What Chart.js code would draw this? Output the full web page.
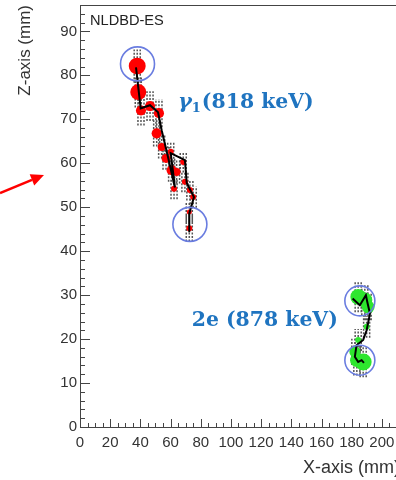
<!DOCTYPE html>
<html>
<head>
<meta charset="utf-8">
<script src="https://cdn.jsdelivr.net/npm/chart.js@4.4.1/dist/chart.umd.min.js"></script>
<style>
  html, body { margin: 0; padding: 0; background: #fff; overflow: hidden; }
  #wrap { width: 396px; height: 480px; overflow: hidden; }
  canvas { display: block; }
</style>
</head>
<body>
<div id="wrap"><canvas id="c" width="420" height="480"></canvas></div>
<script>
// gamma track (818 keV): hit positions in mm, deposit in keV, z spread in mm
const gammaX = [37.9, 38.6, 40.4, 46.4, 52.3, 50.8, 54.1, 57.0, 60.7, 64.0, 62.3, 60.1, 68.4, 69.5, 72.8, 75.0, 72.4, 72.4];
const gammaZ = [82.1, 76.2, 72.0, 73.0, 71.4, 66.8, 63.7, 61.1, 58.4, 58.0, 54.2, 62.6, 60.3, 55.8, 53.9, 52.3, 48.9, 45.2];
const gammaDep = [28, 25, 10, 10, 10, 10, 6, 8, 10, 6, 3.5, 3.5, 3.5, 3.5, 3.5, 3.5, 2.5, 3.5];
const gammaErr = [3.8, 3.5, 3.4, 3.4, 3.2, 3, 2.6, 2.6, 2.6, 2.6, 2.4, 2.4, 2.4, 2.4, 2.4, 2.4, 2.4, 3];
const gammaPathX = [37.1, 40.2, 46.4, 51.7, 54.1, 58.3, 62.9, 60.1, 69.5, 70.7, 75.5, 72.4, 72.4];
const gammaPathZ = [81.8, 72.5, 73.2, 71.6, 67.5, 61.4, 54.5, 62.3, 60.7, 55.5, 52.3, 48.6, 44.3];

// double-electron track (878 keV)
const elecX = [184.3, 188.7, 190.9, 189.9, 184.3, 182.1, 183.4, 187.6];
const elecZ = [29.6, 28.9, 27.3, 22.8, 19.8, 17.1, 15.2, 14.8];
const elecDep = [24, 22, 16, 3.5, 3.5, 12, 18, 28];
const elecErr = [3.5, 3.5, 3, 2.5, 2.5, 3, 3.5, 3.5];
const elecPathX = [180.6, 185.4, 189.4, 190.3, 192.1, 189.9, 187.6, 183.2, 182.1, 184.3, 186.6, 188.1];
const elecPathZ = [29.25, 27.7, 30.0, 28.5, 25.8, 22.0, 19.8, 18.6, 16.0, 14.8, 15.2, 14.6];

// track start / end markers
const gammaEndsX = [38.1, 72.8];
const gammaEndsZ = [82.6, 46.1];
const elecEndsX = [185.4, 185.4];
const elecEndsZ = [28.7, 15.2];

const xRange = [0, 212];
const zRange = [0, 96];

const FONT = 'Liberation Sans, Arial, sans-serif';
const pts = (xs, zs) => xs.map((v, i) => ({ x: v, y: zs[i] }));
const radius = deps => deps.map(d => 1.6 * Math.sqrt(d));
const stripOffsets = [-2, 0, 2];
function strips(xs, zs, errs) {
  const out = [];
  xs.forEach((v, i) => {
    stripOffsets.forEach(o => {
      out.push({ x: v + o, y: zs[i] - errs[i] });
      out.push({ x: v + o, y: zs[i] + errs[i] });
      out.push({ x: v + o, y: null });
    });
  });
  return out;
}

const overlay = {
  id: 'overlay',
  afterDatasetsDraw(chart) {
    const { ctx, chartArea: a, scales: { x, y } } = chart;
    ctx.save();
    // frame top + inward ticks
    ctx.strokeStyle = '#444';
    ctx.lineWidth = 1;
    ctx.beginPath();
    ctx.moveTo(a.left, a.top + 0.5);
    ctx.lineTo(a.right, a.top + 0.5);
    x.ticks.forEach(t => {
      const p = Math.round(x.getPixelForValue(t.value)) + 0.5;
      const len = t.value % 20 === 0 ? 8 : 4;
      ctx.moveTo(p, a.bottom);
      ctx.lineTo(p, a.bottom - len);
    });
    y.ticks.forEach(t => {
      const p = Math.round(y.getPixelForValue(t.value)) + 0.5;
      const len = t.value % 10 === 0 ? 10 : 5;
      ctx.moveTo(a.left, p);
      ctx.lineTo(a.left + len, p);
    });
    ctx.stroke();

    ctx.fillStyle = '#222';
    ctx.font = '14.6px ' + FONT;
    ctx.textBaseline = 'middle';
    ctx.fillText('NLDBD-ES', a.left + 10, a.top + 16);

    // labels
    ctx.fillStyle = '#1f74c0';
    ctx.textBaseline = 'alphabetic';
    let px = x.getPixelForValue(64.9), py = y.getPixelForValue(72.5);
    ctx.font = 'italic bold 21px "DejaVu Serif"';
    ctx.fillText('γ', px, py);
    px += ctx.measureText('γ').width;
    ctx.font = 'bold 13px "DejaVu Serif"';
    ctx.fillText('1', px, py + 4);
    px += ctx.measureText('1').width + 1;
    ctx.font = 'bold 20.4px "DejaVu Serif"';
    ctx.fillText('(818 keV)', px, py);

    px = x.getPixelForValue(74.0); py = y.getPixelForValue(23.0);
    ctx.fillText('2e (878 keV)', px, py);

    // red arrow in the margin
    ctx.strokeStyle = '#ff0000';
    ctx.fillStyle = '#ff0000';
    ctx.lineWidth = 2.5;
    const x0 = 0, y0 = 193, x1 = a.left - 36, y1 = 175;
    const L = Math.hypot(x1 - x0, y1 - y0), ux = (x1 - x0) / L, uy = (y1 - y0) / L;
    const bx = x1 - 13 * ux, by = y1 - 13 * uy;
    ctx.beginPath();
    ctx.moveTo(x0, y0);
    ctx.lineTo(bx, by);
    ctx.stroke();
    ctx.beginPath();
    ctx.moveTo(x1, y1);
    ctx.lineTo(bx - 6 * uy, by + 6 * ux);
    ctx.lineTo(bx + 6 * uy, by - 6 * ux);
    ctx.closePath();
    ctx.fill();
    ctx.restore();
  }
};

new Chart(document.getElementById('c'), {
  type: 'scatter',
  data: {
    datasets: [
      { data: pts(gammaEndsX, gammaEndsZ), order: 0, pointRadius: 17, pointBackgroundColor: 'rgba(0,0,0,0)', pointBorderColor: '#6a7de0', pointBorderWidth: 1.6 },
      { data: pts(elecEndsX, elecEndsZ), order: 0, pointRadius: 15, pointBackgroundColor: 'rgba(0,0,0,0)', pointBorderColor: '#6a7de0', pointBorderWidth: 1.6 },
      { data: pts(gammaPathX, gammaPathZ), order: 1, showLine: true, pointRadius: 0, borderColor: '#000', borderWidth: 2 },
      { data: pts(elecPathX, elecPathZ), order: 1, showLine: true, pointRadius: 0, borderColor: '#000', borderWidth: 2 },
      { data: pts(gammaX, gammaZ), order: 2, pointRadius: radius(gammaDep), pointBackgroundColor: '#ff0000', pointBorderWidth: 0 },
      { data: pts(elecX, elecZ), order: 2, pointRadius: radius(elecDep), pointBackgroundColor: '#2ee62e', pointBorderWidth: 0 },
      { data: strips(gammaX, gammaZ, gammaErr), order: 3, showLine: true, pointRadius: 0, borderColor: '#555', borderWidth: 1.5, borderDash: [2, 1.5] },
      { data: strips(elecX, elecZ, elecErr), order: 3, showLine: true, pointRadius: 0, borderColor: '#555', borderWidth: 1.5, borderDash: [2, 1.5] }
    ]
  },
  options: {
    responsive: false,
    animation: false,
    events: [],
    layout: { autoPadding: false, padding: { top: 5, right: 20, left: 0, bottom: 0 } },
    plugins: { legend: { display: false }, tooltip: { enabled: false } },
    scales: {
      x: {
        type: 'linear', min: xRange[0], max: xRange[1],
        afterFit(s) { s.height = 53; s.paddingLeft = 0; s.paddingRight = 0; },
        border: { display: true, color: '#444', width: 1 },
        grid: { drawOnChartArea: false, drawTicks: false },
        ticks: {
          stepSize: 5, autoSkip: false, maxRotation: 0, includeBounds: false, padding: 7,
          color: '#333', font: { family: FONT, size: 15 },
          callback: v => (v % 20 === 0 ? String(v) : '')
        },
        title: { display: true, text: 'X-axis (mm)', align: 'end', color: '#333', font: { family: FONT, size: 18 }, padding: { top: 0, bottom: 1 } }
      },
      y: {
        type: 'linear', min: zRange[0], max: zRange[1],
        afterFit(s) { s.width = 80; s.paddingTop = 0; s.paddingBottom = 0; },
        border: { display: true, color: '#444', width: 1 },
        grid: { drawOnChartArea: false, drawTicks: false },
        ticks: {
          stepSize: 2, autoSkip: false, includeBounds: false, padding: 3,
          color: '#333', font: { family: FONT, size: 15 },
          callback: v => (v % 10 === 0 ? String(v) : '')
        },
        title: { display: true, text: 'Z-axis (mm)', align: 'end', color: '#333', font: { family: FONT, size: 17 }, padding: { top: 15, bottom: 0 } }
      }
    }
  },
  plugins: [overlay]
});
</script>
</body>
</html>
